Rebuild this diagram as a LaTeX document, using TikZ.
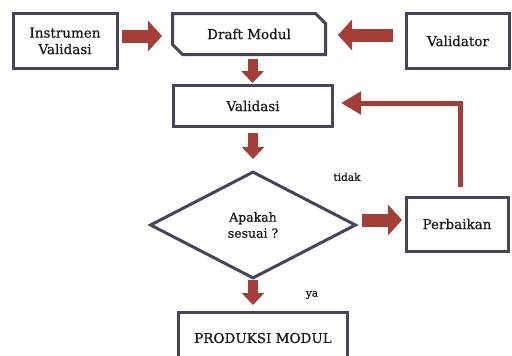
\documentclass[tikz,border=0pt]{standalone}
\usepackage{fontspec}
\setmainfont{DejaVu Serif}[FakeBold=0.6]
\usetikzlibrary{shapes.geometric,shapes.misc,arrows.meta}
\definecolor{boxc}{RGB}{72,68,92}
\definecolor{arrowred}{RGB}{163,62,57}
\definecolor{txt}{RGB}{25,25,25}
\tikzset{
  box/.style={draw=boxc, line width=3pt, fill=white, text=txt, align=center, inner sep=2pt,
    font=\fontsize{13.5}{16.5}\selectfont},
  lbl/.style={text=txt, font=\fontsize{10.5}{12}\selectfont, inner sep=0pt},
  harrow/.style={draw=arrowred, line width=13pt, -{Triangle[width=30pt,length=14pt]}},
  varrow/.style={draw=arrowred, line width=10pt, -{Triangle[width=22pt,length=12pt]}},
  farrow/.style={draw=arrowred, line width=5pt, line join=miter, -{Triangle[width=22pt,length=20pt]}},
}
\begin{document}
\begin{tikzpicture}[x=1pt,y=-1pt]
\useasboundingbox (0,0) rectangle (512,356);
\clip (0,0) rectangle (512,356);
\fill[white] (0,0) rectangle (512,356);

\node[box, minimum width=104pt, minimum height=55pt] (instr) at (65,41) {Instrumen\\Validasi};
\node[box, chamfered rectangle, chamfered rectangle corners={north east,south west},
      chamfered rectangle xsep=5pt, chamfered rectangle ysep=5pt,
      minimum width=153pt, minimum height=41pt] (draft) at (249,34) {Draft Modul};
\node[box, minimum width=103pt, minimum height=55pt] (validator) at (458,41) {Validator};
\node[box, minimum width=159pt, minimum height=41pt] (validasi) at (253,106) {Validasi};
\node[box, diamond, minimum width=206pt, minimum height=107pt, inner sep=0pt,
      font=\fontsize{12.5}{16}\selectfont] (dec) at (253,225) {Apakah\\sesuai ?};
\node[box, minimum width=102pt, minimum height=54pt] (perb) at (457,224) {Perbaikan};
\node[box, minimum width=169pt, minimum height=51pt] (prod) at (263,338) {PRODUKSI MODUL};

\node[lbl] (tidak) at (347,177) {tidak};
\node[lbl] (ya) at (312,295) {ya};

\draw[harrow, shorten <=3.5pt, shorten >=9pt] ([yshift=5pt]instr.east) -- ([yshift=5pt]instr.east -| draft.west);
\draw[harrow, shorten <=12pt, shorten >=11pt] ([yshift=6pt]validator.west) -- ([yshift=6pt]validator.west -| draft.east);
\draw[varrow, shorten <=3pt, shorten >=1pt] ([xshift=3.5pt]draft.south) -- ([xshift=3.5pt]draft.south |- validasi.north);
\draw[varrow, shorten <=5pt, shorten >=11pt] (validasi.south) -- (validasi.south |- dec.north);
\draw[varrow, shorten <=0pt, shorten >=6pt] (dec.south) -- (dec.south |- prod.north);
\draw[harrow, shorten <=4.5pt, shorten >=2.5pt] ([yshift=5pt]dec.east) -- ([yshift=5pt]dec.east -| perb.west);
\draw[farrow, shorten <=8.5pt, shorten >=7pt] ([xshift=3pt]perb.north) |- ([yshift=3pt]validasi.east);
\end{tikzpicture}
\end{document}
